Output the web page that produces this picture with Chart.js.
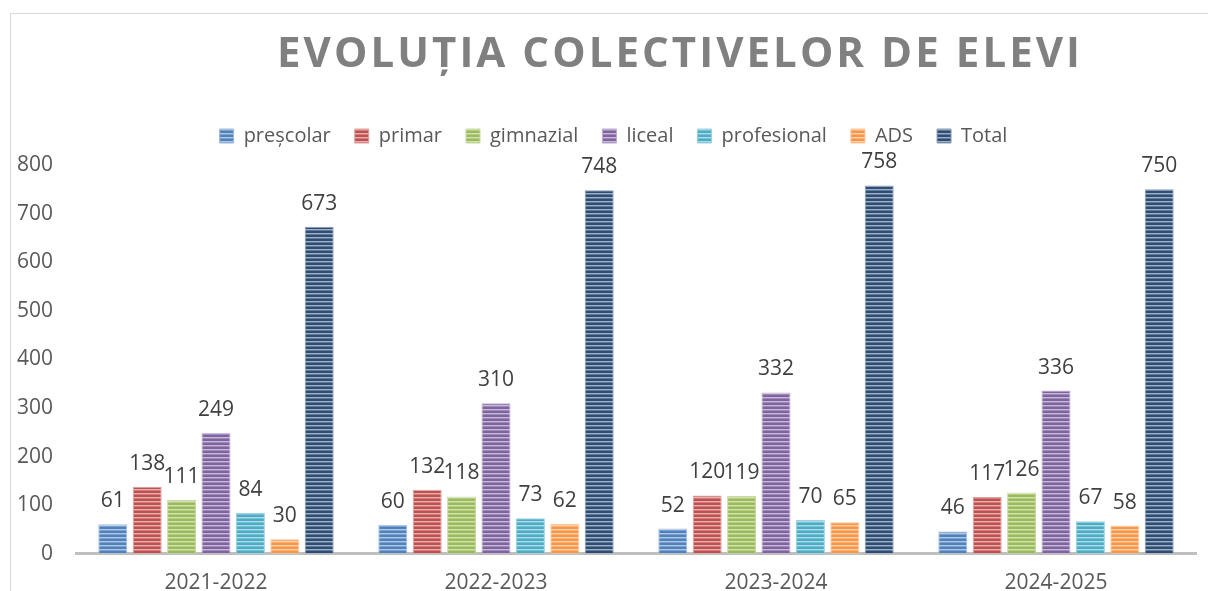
<!DOCTYPE html>
<html>
<head>
<meta charset="utf-8">
<script src="https://cdn.jsdelivr.net/npm/chart.js@4"></script>
<style>
  html, body { margin: 0; padding: 0; background: #fff; overflow: hidden; }
  #frame { position: absolute; left: 10px; top: 13px; width: 1300px; height: 700px; border: 1px solid #d9d9d9; }
  #chart { position: absolute; left: 0; top: 0; }
</style>
</head>
<body>
<div id="frame"></div>
<canvas id="chart" width="1208" height="619"></canvas>
<script>
const titleText = "EVOLUȚIA COLECTIVELOR DE ELEVI";
const years = ["2021-2022", "2022-2023", "2023-2024", "2024-2025"];
const seriesNames = ["preșcolar", "primar", "gimnazial", "liceal", "profesional", "ADS", "Total"];
const prescolar = [61, 60, 52, 46];
const primar = [138, 132, 120, 117];
const gimnazial = [111, 118, 119, 126];
const liceal = [249, 310, 332, 336];
const profesional = [84, 73, 70, 67];
const ads = [30, 62, 65, 58];
const total = [673, 748, 758, 750];
const yTicks = [0, 100, 200, 300, 400, 500, 600, 700, 800];

const seriesValues = [prescolar, primar, gimnazial, liceal, profesional, ads, total];
const colors = ["#4F81BD", "#C0504D", "#9BBB59", "#8064A2", "#4BACC6", "#F79646", "#2C4D75"];

const FONT = '"Open Sans", "Noto Sans", sans-serif';

function mix(hex, amt) {
  const n = parseInt(hex.slice(1), 16);
  const r = (n >> 16) & 255, g = (n >> 8) & 255, b = n & 255;
  const m = v => Math.round(v + (255 - v) * amt);
  return `rgb(${m(r)},${m(g)},${m(b)})`;
}

// horizontal stripe fill like the office "striped" texture
function stripes(hex) {
  const c = document.createElement("canvas");
  c.width = 4; c.height = 4;
  const x = c.getContext("2d");
  x.fillStyle = hex; x.fillRect(0, 0, 4, 4);
  x.fillStyle = mix(hex, 0.55); x.fillRect(0, 1, 4, 1);
  x.fillStyle = mix(hex, 0.25); x.fillRect(0, 2, 4, 1);
  return x.createPattern(c, "repeat");
}

const ctx = document.getElementById("chart").getContext("2d");

const titlePlugin = {
  id: "bigTitle",
  afterInit(chart) {
    // a bit of extra room under the legend
    const lg = chart.legend;
    if (lg) {
      const fit = lg.fit.bind(lg);
      lg.fit = function () { fit(); this.height += 9; };
    }
  },
  afterLayout(chart) {
    // legend sits slightly right of the canvas centre
    const lg = chart.legend;
    if (lg) { lg.left += 9.5; lg.right += 9.5; }
  },
  afterDraw(chart) {
    const c = chart.ctx;
    c.save();
    c.font = "bold 42px " + FONT;
    c.fillStyle = "#808080";
    c.textAlign = "left";
    c.textBaseline = "alphabetic";
    const w0 = c.measureText(titleText).width;
    c.letterSpacing = ((803 - w0) / (titleText.length - 1)) + "px";
    c.fillText(titleText, 277, 67);
    c.restore();
  }
};

const labelPlugin = {
  id: "barLabels",
  afterDatasetsDraw(chart) {
    const c = chart.ctx;
    c.save();
    c.font = "21px " + FONT;
    c.fillStyle = "#404040";
    c.textAlign = "center";
    c.textBaseline = "alphabetic";
    chart.data.datasets.forEach((ds, i) => {
      chart.getDatasetMeta(i).data.forEach((bar, j) => {
        c.fillText(String(ds.data[j]), bar.x, bar.y - 17);
      });
    });
    c.restore();
  }
};

new Chart(ctx, {
  type: "bar",
  data: {
    labels: years,
    datasets: seriesNames.map((name, i) => ({
      label: name,
      data: seriesValues[i],
      backgroundColor: stripes(colors[i]),
      borderColor: mix(colors[i], 0.45),
      borderWidth: 1,
      categoryPercentage: 0.86,
      barPercentage: 0.843
    }))
  },
  options: {
    responsive: false,
    animation: false,
    layout: { padding: { top: 102, left: 12, right: 12, bottom: 6 } },
    plugins: {
      title: { display: false },
      tooltip: { enabled: false },
      legend: {
        position: "top",
        labels: {
          boxWidth: 14,
          boxHeight: 14,
          padding: 24,
          color: "#595959",
          font: { family: FONT, size: 20 }
        }
      }
    },
    scales: {
      x: {
        grid: { display: false, drawTicks: false },
        border: { display: true, color: "#BFBFBF", width: 3 },
        ticks: { color: "#595959", padding: 17, font: { family: FONT, size: 21 } }
      },
      y: {
        min: 0,
        max: 800,
        afterFit(scale) { scale.width = 64; },
        afterBuildTicks(scale) { scale.ticks = yTicks.map(v => ({ value: v })); },
        grid: { display: false, drawTicks: false },
        border: { display: false },
        ticks: { color: "#595959", padding: 23, font: { family: FONT, size: 21 } }
      }
    }
  },
  plugins: [titlePlugin, labelPlugin]
});
</script>
</body>
</html>
